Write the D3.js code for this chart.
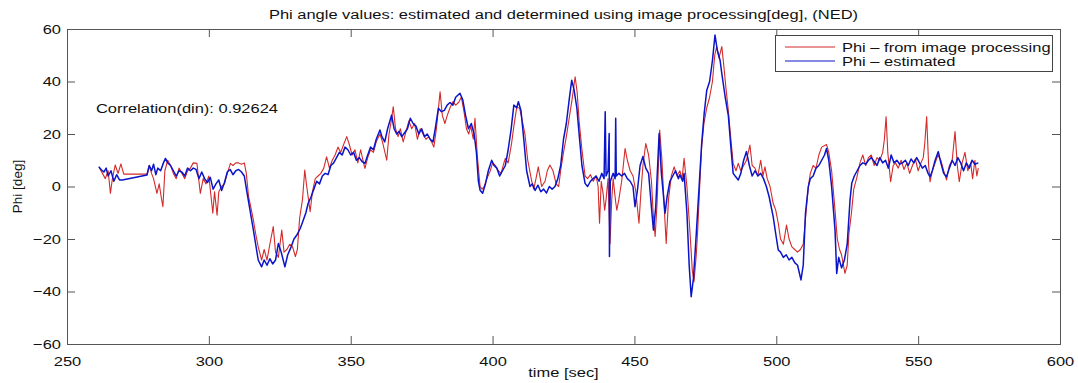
<!DOCTYPE html>
<html><head><meta charset="utf-8">
<script src="https://cdn.jsdelivr.net/npm/d3@7"></script>
<style>body{margin:0;background:#fff}svg{display:block}text{font-family:"Liberation Sans",Arial,sans-serif}</style>
</head><body><svg id="c" width="1078" height="383"></svg>
<script>
const xTicks=[250,300,350,400,450,500,550,600];
const yTicks=[-60,-40,-20,0,20,40,60];
const seriesNames=["Phi \u2013 from image processing","Phi \u2013 estimated"];
const tImg=[261.5,262.5,263.5,264.5,265.3,266,267,268,269,270,278.2,279,279.8,280.5,281.7,282.5,283.2,283.8,284.5,285.5,286.5,287.5,288.5,289.5,290.5,291.5,292.5,293.5,294.5,295.8,296.5,297,298,299,300,301.4,302,302.9,303.5,304.5,305.5,306.5,307.6,308.5,309.5,310.5,311.5,312.5,313.2,314,315,315.7,316.5,317.4,318.6,319.5,320.5,321.5,322.7,323.5,324.5,325.7,326.5,327.5,328.5,329.5,330.5,331.2,332,333,333.8,334.5,335.7,336.5,337.5,338.5,339.5,340.5,341.5,342.5,343.5,344.5,345.5,346.5,347.5,348.6,349.5,350.5,351.5,352.5,353.5,354.3,355,356,357,358,359,360.3,361.2,362.7,363.5,364.3,365,365.8,366.7,367.5,368.5,369.5,370.5,371.5,372.5,373.5,374.5,375.5,376.5,377.5,378.5,379.3,380.2,381.5,382.3,383.2,384,385,386,387,388,389,390,390.8,391.6,392.3,393.2,393.8,394.6,395.6,396.3,397,398,399.2,400,401,402,403,404,404.5,405.5,406.7,407.5,408.5,409.5,410.3,411.4,412.4,413.7,414.5,415.3,416.1,417.3,418.5,419.3,420.2,421.3,422.4,423.3,424,425,426,427,428,429.1,429.8,430.5,431.5,432.6,433.5,434.5,435.5,436.5,437.2,437.7,438.3,439,439.5,440,440.7,441.4,442,442.5,443.4,443.8,444.5,445.5,446.7,447.5,448.5,449.5,450.5,451.6,452.3,453,454,455,456,456.6,457.3,458,458.9,459.7,460.5,461.2,462,463,464,465,466,466.8,467.5,468.5,469.5,470.4,471,471.8,472.3,473,473.7,474.5,475.5,476.5,477.5,478.3,479,479.8,480.8,481.5,482.3,483,484,484.8,485.8,486.6,487.5,488.5,489.5,490.7,491.5,492.5,493.5,494.5,495.3,496,496.8,497.8,498.9,499.8,500.7,501.5,502.5,503.6,504.5,505.5,506.5,507.5,508.5,509.5,510.3,511.3,512,513,514,515,516,517.7,518.5,519.5,520.7,521.5,522.3,523,524.2,525,525.6,526.5,527.3,528.3,529.5,530.5,531.5,532.5,533.5,534.5,535.5,536.5,537.5,538.1,538.7,539.3,540.3,541.2,542,543,544,545,546,547,548,549,550,551,551.8,552.3,553,553.7,554.2,555,556,557,558,559,560,561,562,563,563.8,564.5,565.5,566.5,567.5,568.5,569.2,570,570.7,571.2];
const phiImg=[7,5,3,6,-2.6,3,8.2,5,8.6,4.7,4.7,8,5,3,-2.6,1,-4,-7.7,6,10,8,5,3,7,5,3,6,7,9,8.8,2,-2.6,3,1,4,-10.2,-2,-10.9,-2,0,1,5,8.8,8,9,9,8.5,9,5,-3.9,-9,-12.8,-18,-23,-28,-24,-28,-22,-15.3,-25,-27,-16.6,-25,-24,-22,-23,-26.7,-24,-12,-5,6.3,0,-9.6,-2,3,4,5,7,11.3,7,10,12,15,13,16,19,16,12,14,9,14,10,6.9,11,14,13,17,20,17,10,20,25,30.4,22,19,22,17,21,25,22,24,18,22,20,18,19,17,15,22,36.1,27,24,27,30,32.3,31,32,34,28,22,20,23,18,26,12,0,-1,0,3,6,9,8,6,5,9,10.7,9,16.4,23,30,30,26,20,10,2.5,-1,3,7.5,0,2,6,8.2,6,1,0,6,13,19,26,33,41.8,36,25,14,4,3,4.5,2,4,0,-14,2,-3,-9,-5,3,-21.7,-5,3,-6,-9,-5,2,14.5,10,6,4,-2,-14,-2,8,16.4,12,2,-10,-19,-6,21.5,10,-8,-21.7,-5,4,7.5,4,6,3,10.7,0,-16,-32,-36.3,-26,-16.6,0,15.2,24,30,34,40,50,53.3,49,53.3,46,37,30,18,8.8,6,8.8,6,8,10,15.8,8,7,4,10,4,7.5,3,0,-6.4,-9,-14,-20,-22,-14.7,-20,-23,-24,-25,-24,-22,-12,0,5,8,7,12,15,16,13,6,-9,-20,-24,-26,-33.1,-30,-18,-10,-1,3,9,12,8,11,12,8,11,10,13,18,26.6,13,1.8,8,9,7,10,6.5,9,5,8,10.5,6,9,11,16,26.6,8,1.8,6,9,12,10,6,2.5,8,10,20.9,8,1.8,9,13,6,9,3,10,4,7];
const tEst=[261.2,262,263,263.8,264.5,265.5,266.5,267.5,268.5,269.5,278.2,279,279.8,280.5,281.3,282,283,284,284.7,285.5,286.5,287.5,288.5,289.5,290.5,291.5,292.5,293.5,294.5,295.5,296.5,297.5,298.5,299.5,300.5,301.5,302.5,303.5,304.5,305.5,306.5,307.5,308.5,309.5,310.5,311.5,312.5,313.3,314.5,315.7,316.5,317.4,318.6,319.5,320.5,321.5,322.5,323.5,324.5,325.5,326.8,327.8,329,330,331,332.2,333.3,334.2,335,336,337,338,339,340,341,342,343,344,345,346,347,348,349,350,351,352,353,354,355,356,357,358,359,360.3,361,362,363,364.4,365.3,366.2,367,368,369,370,371,372,373,374,375,376,377,378,379,379.8,380.9,382,383,384,385,386,387,388.5,389.5,390.5,391.5,392.5,393.5,394.3,395,395.6,396.5,397.5,398.5,399.7,400.5,401.5,402.5,403.5,404.5,405.5,406.5,407.5,408.5,409.1,410,411,412,413.2,414,415,416,417,418,419,420,421,422,423,424,425,426,427,427.9,428.7,429.7,430.5,431.5,432.6,433.5,434.5,435.5,436.5,437.5,438.5,439.3,439.7,440,440.7,441.1,441.2,441.5,442.5,443.2,443.4,443.6,444.5,445.5,446.5,447.5,448.5,449.5,450.2,451,452,453,454,455,456,456.7,457.5,458.7,459.5,460.8,461.5,462.5,463.5,464.5,465.5,466,467,467.5,468.5,469.3,470,470.8,471.8,472.8,473.7,474.6,475.5,476.5,477.5,478.4,479.2,480.2,480.8,482,483.1,484,484.8,485.5,486.6,487.5,488.5,489.5,490.5,491.5,492.5,493.5,494.5,495.5,496.5,497.5,498.9,499.8,500.7,501.5,502.5,503.5,504.5,505.5,506.5,507.5,508.7,509.5,510.3,511.3,512,513,514,515,516,517,517.7,518.5,519.5,520.7,521.3,522,523,524,525,526,526.6,527.5,528.5,529.5,530.5,531.5,532.5,533.5,534.5,535.5,536.5,537.5,538.5,539.5,540.5,541.5,542.5,543.5,544.5,545.5,546.5,547.5,548.5,549.5,550.5,551.5,552.5,553.5,554.2,555,556,557.1,558,559,560,561,562,563,564,565,566,567,568,569,570,571.2];
const phiEst=[7.5,6.5,5.5,7,4,6,2,4.5,2.5,2.5,4.4,8,6,8.5,4.5,7,6,9,10.7,9,8,6,4,6,5.5,4,7,6,7,6.5,3,5.5,3,1.5,3.5,-1,1,2.5,-1.5,1.5,5.5,6.5,4.5,6,6.5,5.5,4,-1.4,-9,-16.6,-22,-28,-30.6,-28,-30,-27.5,-29.5,-28,-21.7,-25,-30.6,-26,-23,-20,-18.5,-16,-12.8,-10,-6.4,-4,-1,2,1,4,5,4.5,8,9,11,13,12,15,14,12,13,10,11,9.5,8.8,12,15,14,18,21.5,19,17,22,27.2,22,20,21,19,20.5,22,26,24,23,20,22,19,20,18,17,22,29.8,28.5,29,31,32,31,34,35.5,33,27,22,24,20,13,2,-1.4,-2.6,1,6,10,8,7,4,6,8,14,21.5,31,30,32.3,29,18,6,0,1,-1.5,0.5,-2,-1,-2.5,0,-1,0,3,8,18,24,33,40.5,37,30,20,8,1.2,0,2,3,4,2,5,3,28.5,4,6,20.2,-26.7,2,5,3,26,4,5,4,5,3,2,0,-7.7,-2,8,11.4,7,5,-8,-16.6,-8,20.2,5,-10.2,-4,2,4,6,3,4.5,2,5,-10,-30,-42,-35,-18,0,16.4,28,36.7,40,48,57.7,52,48,43,34,27,15,5,4,2.5,5,10,13.3,8,4,6,4,5,3,0,-4,-11.5,-18,-24.2,-25,-27,-26,-28,-27,-29,-30,-35.6,-30,-10,0,3,4,7,8,10,12,14.5,10,0,-16.6,-33.1,-27,-31,-28,-22,-5,1.2,4,6,8,9,8.5,10,11,9.5,8,11,9,10,7,12,9,10,8.5,9,10,8,10.5,9,11,9,7,8,5,3.7,6,10,13.3,9,5,3.7,7,10,8,11,9,6,9,7,10,8.5,9];

const svg=d3.select("#c");
const m={l:67,r:1060,t:29,b:344};
const x=d3.scaleLinear().domain([250,600]).range([m.l,m.r]);
const y=d3.scaleLinear().domain([-60,60]).range([m.b,m.t]);
const axisCol="#555";
const fmt=d3.format("");
const SX=1.22, FS="13.5px";

// stretch text horizontally about its own anchor point
function stretch(sel){
  sel.each(function(){
    const t=d3.select(this);
    const x0=+t.attr("x")||0, y0=+t.attr("y")||0;
    t.attr("transform",`translate(${x0},${y0}) scale(${SX},1) translate(${-x0},${-y0})`);
  });
}

const line=d3.line().x(d=>x(d[0])).y(d=>y(d[1]));
const red=tImg.map((t,i)=>[t,phiImg[i]]);
const blue=tEst.map((t,i)=>[t,phiEst[i]]);
const plot=svg.append("g");
plot.append("path").datum(red).attr("d",line).attr("fill","none").attr("stroke","#d42a2a").attr("stroke-width",1.1).attr("stroke-linejoin","round");
plot.append("path").datum(blue).attr("d",line).attr("fill","none").attr("stroke","#0a14c8").attr("stroke-width",1.5).attr("stroke-linejoin","round");

// axes
const ax=svg.append("g");
ax.append("g").attr("transform",`translate(0,${m.b})`).call(d3.axisBottom(x).tickValues(xTicks).tickSize(-8).tickPadding(12).tickFormat(fmt));
ax.append("g").attr("transform",`translate(0,${m.t})`).call(d3.axisTop(x).tickValues(xTicks).tickSize(-8).tickFormat(""));
ax.append("g").attr("transform",`translate(${m.l},0)`).call(d3.axisLeft(y).tickValues(yTicks).tickSize(-8).tickPadding(6));
ax.append("g").attr("transform",`translate(${m.r},0)`).call(d3.axisRight(y).tickValues(yTicks).tickSize(-8).tickFormat(""));
ax.selectAll("path.domain").attr("stroke",axisCol);
ax.selectAll(".tick line").attr("stroke",axisCol);
ax.selectAll(".tick text").attr("fill","#111").style("font-size",FS).style("font-family","'Liberation Sans',Arial,sans-serif").call(stretch);

stretch(svg.append("text").attr("x",(m.l+m.r)/2).attr("y",19).attr("text-anchor","middle").style("font-size",FS).attr("fill","#111")
  .text("Phi angle values: estimated and determined using image processing[deg], (NED)"));
stretch(svg.append("text").attr("x",(m.l+m.r)/2).attr("y",377).attr("text-anchor","middle").style("font-size",FS).attr("fill","#111").text("time [sec]"));
svg.append("text").attr("transform",`translate(22,${(m.t+m.b)/2}) rotate(-90)`).attr("text-anchor","middle").style("font-size",FS).attr("fill","#111").text("Phi [deg]");
stretch(svg.append("text").attr("x",x(260.2)).attr("y",y(30)+5).style("font-size",FS).attr("fill","#111").text("Correlation(din): 0.92624"));

// legend
const lg=svg.append("g");
lg.append("rect").attr("x",775.5).attr("y",35.5).attr("width",277).attr("height",36).attr("fill","#fff").attr("stroke","#444");
const cols=["#d42a2a","#0a14c8"];
seriesNames.forEach((n,i)=>{
  const yy=47+i*14;
  lg.append("line").attr("x1",785).attr("x2",835).attr("y1",yy).attr("y2",yy).attr("stroke",cols[i]).attr("stroke-width",1.1);
  stretch(lg.append("text").attr("x",842).attr("y",yy+5).style("font-size",FS).attr("fill","#111").text(n));
});
</script></body></html>
